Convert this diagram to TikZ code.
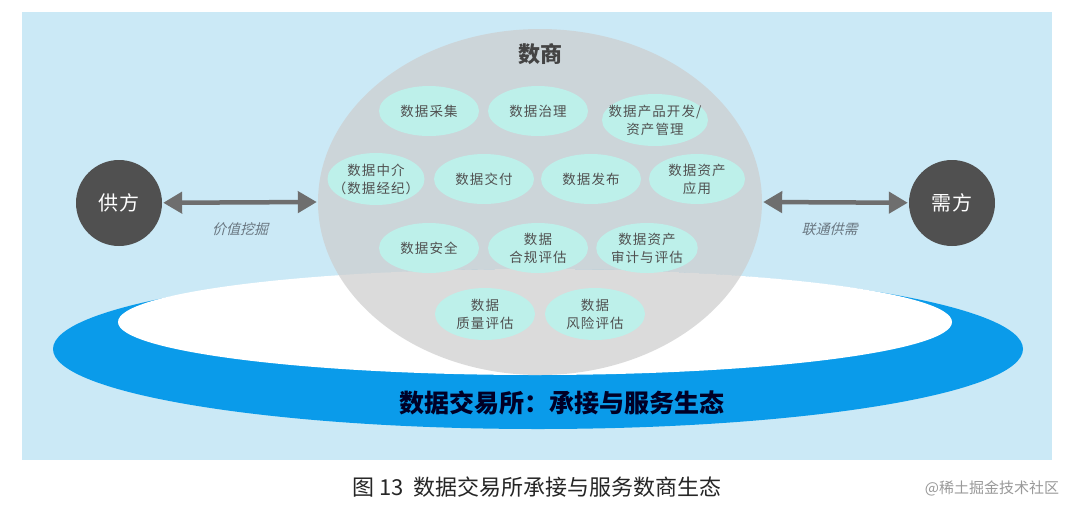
\documentclass[tikz,border=0pt]{standalone}
\usepackage{fontspec}
\usetikzlibrary{shapes.geometric,arrows.meta}
\newfontfamily\cjk{Noto Sans CJK SC}
\newfontfamily\cjkwide[LetterSpace=8]{Noto Sans CJK SC}
\newfontfamily\cjkslant[FakeSlant=0.25]{Noto Sans CJK SC}

\definecolor{skybg}{RGB}{203,233,246}
\definecolor{ringblue}{RGB}{10,155,234}
\definecolor{mistgray}{RGB}{205,205,205}
\definecolor{bizcyan}{RGB}{189,240,234}
\definecolor{bizgray}{RGB}{80,80,80}
\definecolor{partygray}{RGB}{80,80,80}
\definecolor{arrowgray}{RGB}{110,110,110}
\definecolor{labelgray}{RGB}{105,118,128}

\tikzset{
  biz/.style={ellipse, fill=bizcyan, minimum width=100pt, minimum height=50pt,
    inner sep=0pt, align=center, text=bizgray,
    font=\cjkwide\fontsize{13.5}{18}\selectfont},
  party/.style={circle, fill=partygray, minimum size=86pt, inner sep=0pt,
    text=white, font=\cjkwide\fontsize{20}{24}\selectfont},
  link/.style={{Triangle[length=19pt,width=21pt]}-{Triangle[length=19pt,width=21pt]},
    line width=4.5pt, draw=arrowgray, shorten <=1pt, shorten >=1pt},
  linklabel/.style={below=15pt, text=labelgray,
    font=\cjkslant\fontsize{14}{16}\selectfont},
}

\begin{document}
\begin{tikzpicture}[x=1pt,y=-1pt]
    \useasboundingbox (0,0) rectangle (1080,507);
    \fill[white] (0,0) rectangle (1080,507);
    \fill[skybg] (22,12) rectangle (1052,460);

    % platform ring
    \fill[ringblue] (538,349) ellipse [x radius=485pt, y radius=80pt];
    \fill[white] (535,322) ellipse [x radius=417pt, y radius=53pt];
    \node[ellipse, fill=mistgray, fill opacity=0.7, minimum width=444pt,
      minimum height=346pt, inner sep=0pt] (shushang) at (540,202) {};

    \node[text=bizgray!85!black, font=\cjk\bfseries\fontsize{22}{26}\selectfont]
      (title) at (540,54) {数商};

    % services
    \node[biz] (caiji)   at (429,111) {数据采集};
    \node[biz] (zhili)   at (538,111) {数据治理};
    \node[biz, inner sep=-11pt, minimum width=106pt, minimum height=52pt] (kaifa)
      at (655,120) {数据产品开发/\\资产管理};

    \node[biz, inner sep=-9pt, minimum width=97pt, minimum height=52pt] (zhongjie)
      at (376,179) {数据中介\\（数据经纪）};
    \node[biz] (jiaofu)  at (484,179) {数据交付};
    \node[biz] (fabu)    at (591,179) {数据发布};
    \node[biz, minimum width=96pt] (yingyong) at (697,179) {数据资产\\应用};

    \node[biz] (anquan)  at (429,248) {数据安全};
    \node[biz] (hegui)   at (538,248) {数据\\合规评估};
    \node[biz] (shenji)  at (647,248) {数据资产\\审计与评估};

    \node[biz, minimum height=52pt] (zhiliang) at (485,314) {数据\\质量评估};
    \node[biz, minimum height=52pt] (fengxian) at (595,314) {数据\\风险评估};

    % parties
    \node[party] (gongfang) at (119,203) {供方};
    \node[party] (xufang)   at (952,203) {需方};

    \draw[link] (gongfang) -- node[linklabel] {价值挖掘} (shushang.west);
    \draw[link] (shushang.east) -- node[linklabel, xshift=-6pt] {联通供需} (xufang);

    \node[text=black!85!blue, font=\cjk\bfseries\fontsize{25}{28}\selectfont]
      (jiaoyisuo) at (562,403) {数据交易所：承接与服务生态};

    % caption
    \node[text=black!85, font=\cjk\fontsize{22}{25}\selectfont]
      (caption) at (537,487) {图 13\ \ 数据交易所承接与服务数商生态};
    \node[text=black!40, font=\cjk\fontsize{15}{18}\selectfont]
      (mark) at (992,488) {@稀土掘金技术社区};
\end{tikzpicture}
\end{document}
